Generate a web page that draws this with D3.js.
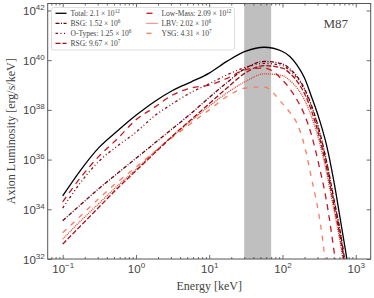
<!DOCTYPE html>
<html>
<head>
<meta charset="utf-8">
<script src="https://cdn.jsdelivr.net/npm/d3@7"></script>
<style>
  body { margin: 0; background: #fff; }
  svg { display: block; font-family: "Liberation Serif", "DejaVu Serif", serif; }
</style>
</head>
<body>
<svg id="chart" width="374" height="298"></svg>
<script>
// ── Data (energy in keV, luminosity as log10 erg/s/keV) ─────────────────────
const energy = [0.1, 0.178, 0.316, 0.562, 1, 1.78, 3.16, 5.62, 10, 17.8, 31.6, 56.2,
  100, 126, 158, 200, 251, 316, 398, 501, 631, 794, 1000];

const total    = [34.54, 35.6, 36.5, 37.16, 37.78, 38.33, 38.78, 39.12, 39.48, 39.97, 40.36, 40.52,
  40.35, 40.15, 39.8, 39.28, 38.5, 37.65, 36.6, 35.15, 33.4, 31.6, 29.5];
const bsg      = [33.54, 34.2, 34.85, 35.45, 36.05, 36.65, 37.25, 37.85, 38.5, 39.12, 39.68, 39.95,
  39.85, 39.65, 39.35, 38.85, 38.15, 37.2, 35.95, 34.45, 32.9, 30.9, 28.6];
const oTypes   = [34.05, 35.1, 35.95, 36.55, 37.1, 37.75, 38.25, 38.7, 39.05, 39.42, 39.72, 39.87,
  39.78, 39.58, 39.28, 38.8, 38.1, 37.15, 35.9, 34.4, 32.85, 30.8, 28.5];
const rsg      = [32.6, 33.35, 34.1, 34.85, 35.55, 36.25, 36.95, 37.6, 38.25, 38.9, 39.5, 39.78,
  39.68, 39.47, 39.15, 38.65, 37.93, 36.95, 35.7, 34.2, 32.65, 30.6, 28.3];
const lowMass  = [34.3, 35.3, 36.15, 36.85, 37.6, 38.1, 38.6, 38.88, 39.0, 39.28, 39.62, 39.68,
  39.2, 38.85, 38.4, 37.8, 36.95, 35.75, 34.35, 32.4, 30.2, 28, 25.5];
const lbv      = [32.8, 33.55, 34.25, 34.95, 35.6, 36.3, 36.95, 37.55, 38.15, 38.7, 39.15, 39.45,
  39.38, 39.18, 38.88, 38.4, 37.7, 36.75, 35.5, 34.0, 32.45, 30.4, 28.1];
const ysg      = [33.06, 33.75, 34.45, 35.1, 35.7, 36.3, 36.9, 37.45, 38.0, 38.55, 38.88, 38.92,
  38.25, 37.9, 37.45, 36.55, 35.2, 33.75, 31.6, 29.3, 27, 24.5, 22];

const seriesNames = ['Total', 'BSG', 'O-Types', 'RSG', 'Low-Mass', 'LBV', 'YSG'];
const countMant   = ['2.1', '1.52', '1.25', '9.67', '2.09', '2.02', '4.31'];
const countExp    = ['12', '6', '6', '7', '12', '6', '7'];

const band = [30, 70];               // shaded energy window, keV
const xTickExp = [-1, 0, 1, 2, 3];
const yTickExp = [32, 34, 36, 38, 40, 42];

// ── Styles ──────────────────────────────────────────────────────────────────
const seriesValues = [total, bsg, oTypes, rsg, lowMass, lbv, ysg];
const colors = ['#000000', '#6e000c', '#8e0a12', '#a50f15', '#c8171e', '#e5402f', '#f97b5c'];
const dashes = [null, '4,1.5,1,1.5', '2.5,2.5,1,2.5,1,2.5', '5,2', '6,5', '1,1', '5,6'];

// ── Layout ──────────────────────────────────────────────────────────────────
const svg = d3.select('#chart');
const L = 47.7, R = 370.7, T = 3.5, B = 259;

const x = d3.scaleLog().domain([0.0624, 1600]).range([L, R]);
const y = d3.scaleLog().domain([1e32, Math.pow(10, 42.28)]).range([B, T]);

const ink = '#444';

svg.append('defs').append('clipPath').attr('id', 'plot-clip')
  .append('rect').attr('x', L).attr('y', T).attr('width', R - L).attr('height', B - T);

// shaded band
svg.append('rect')
  .attr('x', x(band[0])).attr('y', T)
  .attr('width', x(band[1]) - x(band[0])).attr('height', B - T)
  .attr('fill', '#bfbfbf');

// curves
const line = d3.line()
  .x(function (d) { return x(d[0]); })
  .y(function (d) { return y(Math.pow(10, d[1])); })
  .curve(d3.curveMonotoneX);

const curves = svg.append('g').attr('clip-path', 'url(#plot-clip)');
seriesValues.slice().reverse().forEach(function (vals, ri) {
  const i = seriesValues.length - 1 - ri;
  curves.append('path')
    .datum(energy.map(function (e, k) { return [e, vals[k]]; }))
    .attr('d', line)
    .attr('fill', 'none')
    .attr('stroke', colors[i])
    .attr('stroke-width', i === 0 ? 1.3 : 1.3)
    .attr('stroke-dasharray', dashes[i]);
});

// ── Axes ────────────────────────────────────────────────────────────────────
const xMajor = xTickExp.map(function (e) { return Math.pow(10, e); });
const xMinor = [];
for (let e = -2; e <= 3; e++) {
  for (let m = 2; m <= 9; m++) {
    const v = m * Math.pow(10, e);
    if (v > x.domain()[0] && v < x.domain()[1]) xMinor.push(v);
  }
}
const yMajor = yTickExp.map(function (e) { return Math.pow(10, e); });

function styleAxis(g) {
  g.select('.domain').remove();
  g.selectAll('.tick line').attr('stroke', ink).attr('stroke-width', 0.8);
}

svg.append('g').attr('transform', `translate(0,${B})`)
  .call(d3.axisBottom(x).tickValues(xMinor).tickSize(-2).tickFormat(''))
  .call(styleAxis);
svg.append('g').attr('transform', `translate(0,${T})`)
  .call(d3.axisTop(x).tickValues(xMinor).tickSize(-2).tickFormat(''))
  .call(styleAxis);
svg.append('g').attr('transform', `translate(0,${T})`)
  .call(d3.axisTop(x).tickValues(xMajor).tickSize(-4).tickFormat(''))
  .call(styleAxis);
svg.append('g').attr('transform', `translate(${R},0)`)
  .call(d3.axisRight(y).tickValues(yMajor).tickSize(-4).tickFormat(''))
  .call(styleAxis);

const xAxis = svg.append('g').attr('transform', `translate(0,${B})`)
  .call(d3.axisBottom(x).tickValues(xMajor).tickSize(-4).tickPadding(10))
  .call(styleAxis);
const yAxis = svg.append('g').attr('transform', `translate(${L},0)`)
  .call(d3.axisLeft(y).tickValues(yMajor).tickSize(-4).tickPadding(8))
  .call(styleAxis);

function powerLabel(sel) {
  sel.each(function (d) {
    const t = d3.select(this);
    const ex = Math.round(Math.log10(d));
    t.text(null).attr('fill', ink).attr('font-size', 11.5);
    t.append('tspan').text('10');
    t.append('tspan').attr('dy', -5).attr('font-size', 8)
      .text(ex < 0 ? '\u2212' + (-ex) : String(ex));
  });
}
xAxis.selectAll('.tick text').call(powerLabel)
  .attr('dy', null).attr('y', 14).attr('text-anchor', 'middle');
yAxis.selectAll('.tick text').call(powerLabel)
  .attr('dy', '0.35em').attr('x', -3).attr('text-anchor', 'end');

// frame
svg.append('rect')
  .attr('x', L).attr('y', T).attr('width', R - L).attr('height', B - T)
  .attr('fill', 'none').attr('stroke', '#555').attr('stroke-width', 1);

// axis titles
svg.append('text')
  .attr('x', (L + R) / 2).attr('y', 290)
  .attr('text-anchor', 'middle').attr('font-size', 12).attr('fill', ink)
  .text('Energy [keV]');
svg.append('text')
  .attr('transform', `translate(15,${(T + B) / 2}) rotate(-90)`)
  .attr('text-anchor', 'middle').attr('font-size', 12).attr('fill', ink)
  .text('Axion Luminosity [erg/s/keV]');

// galaxy tag
svg.append('text')
  .attr('x', 348).attr('y', 28)
  .attr('text-anchor', 'end').attr('font-size', 13).attr('fill', ink)
  .text('M87');

// ── Legend ──────────────────────────────────────────────────────────────────
const legend = svg.append('g');
legend.append('rect')
  .attr('x', 51.5).attr('y', 7.5).attr('width', 183).attr('height', 42.5)
  .attr('rx', 2).attr('fill', '#fff').attr('fill-opacity', 0.85)
  .attr('stroke', '#d6d6d6').attr('stroke-width', 0.8);

seriesNames.forEach(function (name, i) {
  const col = i < 4 ? 0 : 1;
  const row = i < 4 ? i : i - 4;
  const x0 = col === 0 ? 55.5 : 146.5;
  const yy = 13.3 + row * 10;
  legend.append('line')
    .attr('x1', x0).attr('x2', x0 + 11).attr('y1', yy).attr('y2', yy)
    .attr('stroke', colors[i]).attr('stroke-width', 1.3)
    .attr('stroke-dasharray', dashes[i]);
  const t = legend.append('text')
    .attr('x', x0 + 15).attr('y', yy + 2.6)
    .attr('font-size', 7.5).attr('fill', ink);
  t.append('tspan').text(name + ':  ' + countMant[i] + ' \u00d7 10');
  t.append('tspan').attr('dy', -3).attr('font-size', 5.2).text(countExp[i]);
});
</script>
</body>
</html>
